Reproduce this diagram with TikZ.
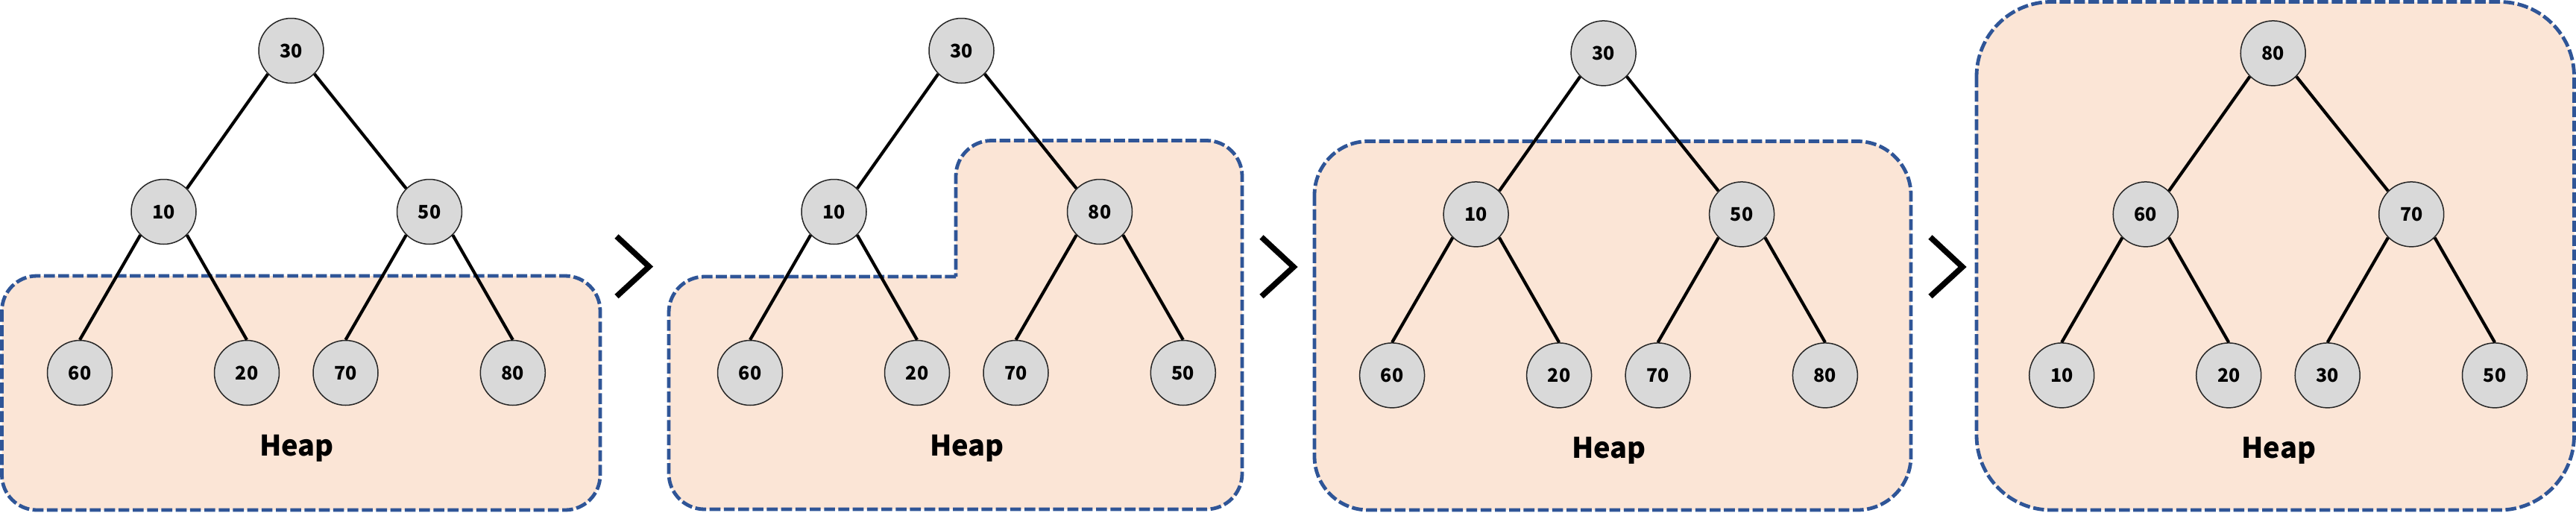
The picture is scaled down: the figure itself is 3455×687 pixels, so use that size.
\documentclass[tikz,border=0pt]{standalone}
\usepackage{fontspec}
\setmainfont{Noto Sans CJK KR}
\definecolor{peach}{RGB}{251,229,214}
\definecolor{dblue}{RGB}{47,85,151}
\definecolor{ngray}{RGB}{217,217,217}
\definecolor{nline}{RGB}{38,38,38}
\tikzset{
  hn/.style={circle,draw=nline,line width=0.75pt,fill=ngray,minimum size=43.5pt,inner sep=0pt,font=\bfseries\fontsize{12.5}{14}\selectfont},
  edge/.style={line width=2.1pt,black},
  heapbox/.style={draw=dblue,fill=peach,line width=2.4pt,dash pattern=on 7.3pt off 2.3pt},
  heaplabel/.style={font=\bfseries\fontsize{19}{23}\selectfont,inner sep=0pt},
  chev/.style={line width=3.8pt,black,miter limit=10}
}
\newcommand{\htree}[9]{%
  \begin{scope}[shift={#2}]
    \node[hn] (#1r) at (0,0) {#3};
    \node[hn] (#1a) at (-171,216) {#4};
    \node[hn] (#1b) at (185.5,216) {#5};
    \node[hn] (#1c) at (-283.5,432) {#6};
    \node[hn] (#1d) at (-59.5,432) {#7};
    \node[hn] (#1e) at (73,432) {#8};
    \node[hn] (#1f) at (297.3,432) {#9};
    \node[heaplabel] (#1h) at (7.5,533) {Heap};
  \end{scope}%
  \draw[edge] (#1r.-135) -- (#1a.45);
  \draw[edge] (#1r.-45) -- (#1b.135);
  \draw[edge] (#1a.-135) -- (#1c.north);
  \draw[edge] (#1a.-45) -- (#1d.north);
  \draw[edge] (#1b.-135) -- (#1e.north);
  \draw[edge] (#1b.-45) -- (#1f.north);
}
\begin{document}
\begin{tikzpicture}[x=0.5pt,y=-0.5pt]
  \useasboundingbox (0,0) rectangle (3455,687);
  % heap boxes
  \path[heapbox,rounded corners=23.5pt] (2.5,370) rectangle (805,684);
  \path[heapbox,rounded corners=24pt] (1282,371) -- (897,371) -- (897,683) -- (1666,683) -- (1666,188.5) -- (1282,188.5) -- (1282,371);
  \path[heapbox,rounded corners=36pt] (1763,189.5) rectangle (2563,684);
  \path[heapbox,rounded corners=50pt] (2651,2.5) rectangle (3452.5,684);
  % chevrons
  \draw[chev] (827,317) -- (870.5,357.5) -- (827,397.5);
  \draw[chev] (1692,318) -- (1735,358) -- (1692,397.5);
  \draw[chev] (2589,318) -- (2632,358) -- (2589,397.5);
  % trees
  \htree{p}{(390.5,68)}{30}{10}{50}{60}{20}{70}{80}
  \htree{q}{(1289.5,68)}{30}{10}{80}{60}{20}{70}{50}
  \htree{s}{(2150.6,71.4)}{30}{10}{50}{60}{20}{70}{80}
  \htree{t}{(3048.7,71.4)}{80}{60}{70}{10}{20}{30}{50}
\end{tikzpicture}
\end{document}
